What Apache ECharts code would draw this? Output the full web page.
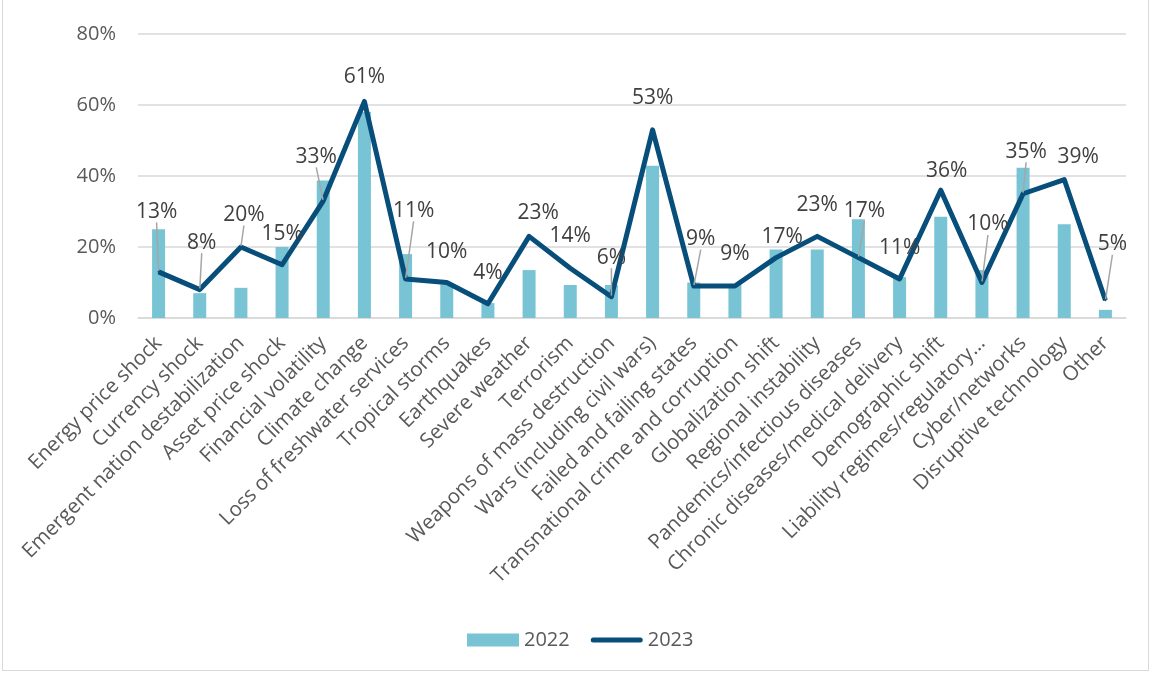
<!DOCTYPE html>
<html><head><meta charset="utf-8">
<script src="https://cdn.jsdelivr.net/npm/echarts@6/dist/echarts.min.js"></script>
<style>
html,body{margin:0;padding:0;background:#fff;}
#c{position:absolute;left:2px;top:-2px;width:1147px;height:673px;border:1px solid #D9D9D9;box-sizing:border-box;}
</style></head><body>
<div id="c"></div>
<script>
const categories = ["Energy price shock","Currency shock","Emergent nation destabilization","Asset price shock","Financial volatility","Climate change","Loss of freshwater services","Tropical storms","Earthquakes","Severe weather","Terrorism","Weapons of mass destruction","Wars (including civil wars)","Failed and failing states","Transnational crime and corruption","Globalization shift","Regional instability","Pandemics/infectious diseases","Chronic diseases/medical delivery","Demographic shift","Liability regimes/regulatory…","Cyber/networks","Disruptive technology","Other"];
const values2022 = [25, 7, 8.5, 20, 38.7, 58, 18, 9.5, 4.2, 13.5, 9.3, 9.3, 42.9, 10, 9.3, 19.3, 19.3, 27.8, 11.5, 28.5, 13.5, 42.3, 26.4, 2.3];
const values2023 = [13, 8, 20, 15, 33, 61, 11, 10, 4, 23, 14, 6, 53, 9, 9, 17, 23, 17, 11, 36, 10, 35, 39, 5];
const yTicks = [0, 20, 40, 60, 80];
// label placement (offset of label centre from its point) and whether a leader line is drawn
const labelDx = [-2, 2, 3, 0, -7, 0, 8, 0, 0, 9, 0, 0, 0, 7, 0, 6, 0, 6, 0, 6, 6, 3, 14, 7];
const labelDy = [-60, -47, -32, -31, -44, -24, -68, -30, -31, -23, -32, -39, -32, -47, -32, -21, -31, -47, -31, -19, -58, -42, -23, -56];
const leader = [1,1,1,0,1,0,1,0,0,0,0,1,0,1,0,0,0,1,0,0,1,1,0,1];

const chart = echarts.init(document.getElementById('c'));
const FONT = 'Open Sans';
chart.setOption({
  animation: false,
  textStyle: {fontFamily: FONT},
  grid: {left: 135, right: 22, top: 35, bottom: 352},
  legend: {
    top: 626, left: 459, itemGap: 21, itemWidth: 52, itemHeight: 13,
    textStyle: {fontSize: 20, color: '#595959', fontFamily: FONT},
    data: [
      {name: '2022', icon: 'rect'},
      {name: '2023', icon: 'path://M2.5,0 L49.5,0 A2.5,2.5 0 0 1 49.5,5 L2.5,5 A2.5,2.5 0 0 1 2.5,0 Z'}
    ]
  },
  xAxis: {
    type: 'category', data: categories,
    axisLine: {show: true, lineStyle: {color: '#D9D9D9', width: 1.5}},
    axisTick: {show: false},
    axisLabel: {interval: 0, rotate: 45, fontSize: 20.5, color: '#595959', margin: 22, fontFamily: FONT}
  },
  yAxis: {
    type: 'value', min: yTicks[0], max: yTicks[yTicks.length - 1], interval: 20,
    axisLine: {show: false}, axisTick: {show: false},
    splitLine: {lineStyle: {color: '#D9D9D9', width: 1.5}},
    axisLabel: {formatter: '{value}%', fontSize: 20, color: '#595959', margin: 22, fontFamily: FONT}
  },
  series: [
    {
      name: '2022', type: 'bar', data: values2022, barWidth: 13,
      itemStyle: {color: '#78C4D4'}
    },
    {
      name: '2023', type: 'line', z: 5,
      data: values2023.map((v, i) => ({
        value: v,
        labelLine: {show: !!leader[i]}
      })),
      symbol: 'circle', symbolSize: 2, showSymbol: true,
      lineStyle: {color: '#074E7B', width: 5, join: 'round'},
      itemStyle: {color: '#074E7B'},
      label: {show: true, position: 'top', formatter: p => p.value + '%', fontSize: 21, color: '#404040', fontFamily: FONT},
      labelLine: {show: false, lineStyle: {color: '#A6A6A6', width: 1.5}},
      labelLayout: function (p) {
        const i = p.dataIndex;
        const cx = p.rect.x + p.rect.width / 2;
        const cy = p.rect.y + p.rect.height / 2;
        return {x: cx + labelDx[i], y: cy + labelDy[i], align: 'center', verticalAlign: 'middle'};
      }
    }
  ]
});
</script>
</body></html>
